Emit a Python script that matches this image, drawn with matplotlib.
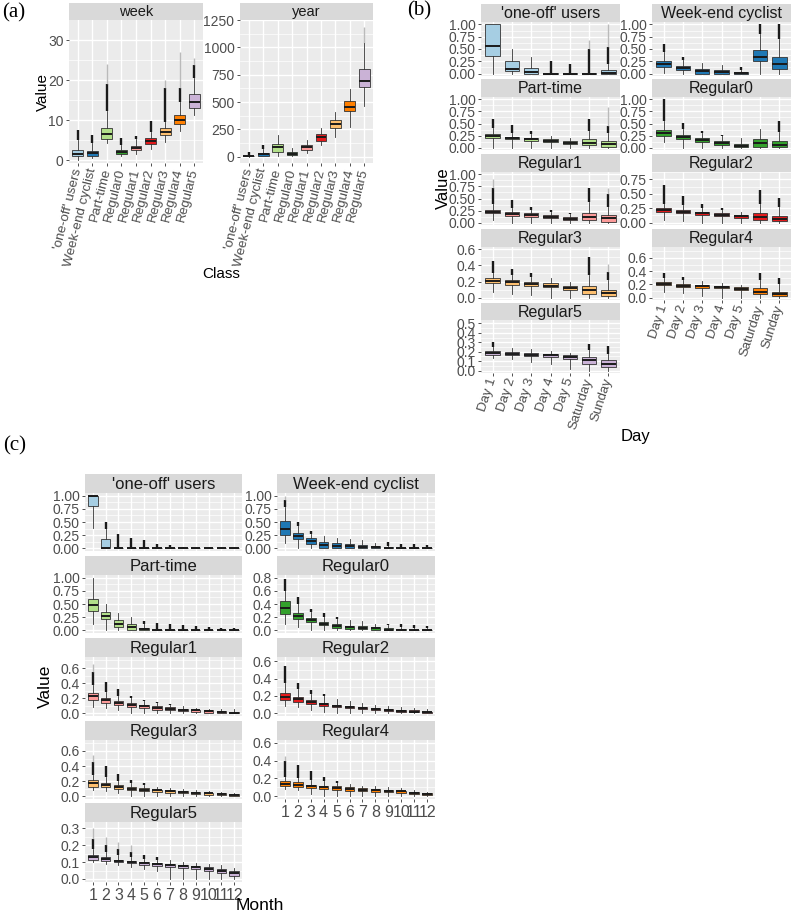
import numpy as np
import matplotlib
matplotlib.use("Agg")
from matplotlib import pyplot as plt

plt.rcParams['font.family'] = ['Liberation Sans', 'DejaVu Sans']

W, H = 797, 914

classes = ["'one-off' users", "Week-end cyclist", "Part-time", "Regular0", "Regular1",
           "Regular2", "Regular3", "Regular4", "Regular5"]
colours = ['#A6CEE3', '#1F78B4', '#B2DF8A', '#33A02C', '#FB9A99',
           '#E31A1C', '#FDBF6F', '#FF7F00', '#CAB2D6']
days = ["Day 1", "Day 2", "Day 3", "Day 4", "Day 5", "Saturday", "Sunday"]
months = [str(m) for m in range(1, 13)]

# each box: (lower whisker, q1, median, q3, upper whisker[, top of dense outliers[, top of sparse outliers]])
week_stats = [
    (0.1, 0.9, 1.6, 2.5, 5.0, 7.5),
    (0.5, 1.1, 1.8, 2.3, 4.2, 6.3),
    (4.2, 5.3, 6.4, 8.1, 12.3, 19.0, 24.0),
    (0.9, 1.5, 1.9, 2.4, 3.8, 5.4),
    (1.4, 2.5, 3.0, 3.6, 5.2, 6.0),
    (2.8, 4.0, 4.75, 5.4, 7.1, 9.8),
    (4.6, 6.25, 7.1, 7.9, 9.6, 18.0, 20.0),
    (7.2, 8.9, 10.0, 11.3, 14.5, 18.0, 27.0),
    (11.2, 12.9, 14.4, 16.4, 20.4, 23.8, 25.5),
]
year_stats = [
    (0, 2, 4, 7, 15, 45),
    (2, 10, 22, 35, 70, 105),
    (5, 46, 85, 113, 195),
    (3, 12, 25, 42, 80),
    (35, 65, 88, 105, 150),
    (107, 146, 180, 208, 260),
    (177, 260, 299, 336, 412),
    (270, 415, 455, 510, 620),
    (460, 640, 695, 800, 1040, 1040, 1190),
]

# (b) share of trips per day of the week
b_oneoff = [
    (0.0, 0.36, 0.56, 1.0, 1.0),
    (0.0, 0.05, 0.10, 0.26, 0.49),
    (0.0, 0.0, 0.03, 0.11, 0.33),
    (0.0, 0.0, 0.0, 0.01, 0.02, 0.26),
    (0.0, 0.0, 0.0, 0.005, 0.01, 0.20),
    (0.0, 0.0, 0.0, 0.01, 0.02, 0.50, 0.68),
    (0.0, 0.0, 0.01, 0.08, 0.20, 0.55, 1.0),
]
b_weekend = [
    (0.02, 0.13, 0.20, 0.26, 0.44, 0.60),
    (0.0, 0.07, 0.11, 0.15, 0.27, 0.33),
    (0.0, 0.0, 0.05, 0.10, 0.22),
    (0.0, 0.0, 0.03, 0.07, 0.17),
    (0.0, 0.0, 0.01, 0.03, 0.07, 0.14),
    (0.0, 0.25, 0.34, 0.47, 0.80, 1.0),
    (0.0, 0.09, 0.20, 0.34, 0.70, 1.0),
]
b_parttime = [
    (0.0, 0.20, 0.24, 0.28, 0.40, 0.60),
    (0.0, 0.17, 0.20, 0.22, 0.30, 0.47),
    (0.0, 0.14, 0.17, 0.20, 0.28, 0.35),
    (0.0, 0.11, 0.14, 0.17, 0.25),
    (0.0, 0.08, 0.10, 0.13, 0.20),
    (0.0, 0.05, 0.10, 0.17, 0.35, 0.60),
    (0.0, 0.02, 0.07, 0.14, 0.30, 0.45, 0.85),
]
b_regular0 = [
    (0.12, 0.25, 0.31, 0.37, 0.55, 1.0),
    (0.0, 0.17, 0.22, 0.26, 0.38, 0.52),
    (0.0, 0.11, 0.15, 0.19, 0.30, 0.35),
    (0.0, 0.06, 0.10, 0.13, 0.24, 0.27),
    (0.0, 0.01, 0.04, 0.08, 0.20),
    (0.0, 0.02, 0.09, 0.17, 0.38),
    (0.0, 0.01, 0.06, 0.14, 0.33, 0.55),
]
b_regular1 = [
    (0.05, 0.19, 0.23, 0.27, 0.38, 0.72, 0.90),
    (0.0, 0.14, 0.185, 0.22, 0.30, 0.47),
    (0.0, 0.12, 0.15, 0.19, 0.27, 0.32),
    (0.0, 0.09, 0.12, 0.15, 0.22, 0.27),
    (0.0, 0.06, 0.08, 0.11, 0.18, 0.20),
    (0.0, 0.05, 0.12, 0.20, 0.42, 0.72),
    (0.0, 0.02, 0.09, 0.15, 0.33, 0.60, 0.72),
]
b_regular2 = [
    (0.05, 0.19, 0.22, 0.26, 0.33, 0.65),
    (0.02, 0.16, 0.19, 0.22, 0.30, 0.47),
    (0.0, 0.13, 0.16, 0.19, 0.26, 0.33),
    (0.0, 0.11, 0.14, 0.16, 0.22, 0.25),
    (0.0, 0.08, 0.11, 0.13, 0.18),
    (0.0, 0.05, 0.10, 0.16, 0.32, 0.57),
    (0.0, 0.02, 0.06, 0.12, 0.27, 0.42),
]
b_regular3 = [
    (0.07, 0.18, 0.21, 0.245, 0.30, 0.46),
    (0.05, 0.16, 0.19, 0.22, 0.28, 0.35),
    (0.03, 0.15, 0.17, 0.20, 0.26, 0.30),
    (0.0, 0.13, 0.15, 0.18, 0.24),
    (0.0, 0.10, 0.12, 0.15, 0.20),
    (0.0, 0.04, 0.09, 0.14, 0.28, 0.50),
    (0.0, 0.02, 0.06, 0.10, 0.22, 0.32, 0.42),
]
b_regular4 = [
    (0.08, 0.19, 0.21, 0.24, 0.30, 0.38),
    (0.07, 0.16, 0.18, 0.20, 0.27, 0.31),
    (0.03, 0.15, 0.17, 0.19, 0.25),
    (0.0, 0.14, 0.155, 0.17, 0.22),
    (0.0, 0.12, 0.135, 0.155, 0.19),
    (0.0, 0.05, 0.09, 0.14, 0.27, 0.37),
    (0.0, 0.03, 0.06, 0.09, 0.20, 0.30),
]
b_regular5 = [
    (0.13, 0.16, 0.19, 0.21, 0.25, 0.30),
    (0.12, 0.16, 0.18, 0.20, 0.24),
    (0.09, 0.15, 0.17, 0.19, 0.23),
    (0.07, 0.14, 0.16, 0.18, 0.21),
    (0.02, 0.12, 0.14, 0.16, 0.19),
    (0.0, 0.07, 0.11, 0.14, 0.22, 0.28),
    (0.0, 0.036, 0.07, 0.107, 0.18, 0.26),
]

# (c) share of trips per month of activity
c_oneoff = [
    (0.38, 0.80, 1.0, 1.0, 1.0),
    (0.0, 0.0, 0.0, 0.17, 0.36, 0.50),
    (0.0, 0.0, 0.0, 0.0, 0.0, 0.27),
    (0.0, 0.0, 0.0, 0.0, 0.0, 0.20),
    (0.0, 0.0, 0.0, 0.0, 0.0, 0.15),
    (0.0, 0.0, 0.0, 0.0, 0.0, 0.09),
    (0.0, 0.0, 0.0, 0.0, 0.0, 0.06),
    (0.0, 0.0, 0.0, 0.0, 0.0, 0.02),
    (0.0, 0.0, 0.0, 0.0, 0.0, 0.01),
    (0.0, 0.0, 0.0, 0.0, 0.0, 0.01),
    (0.0, 0.0, 0.0, 0.0, 0.0, 0.01),
    (0.0, 0.0, 0.0, 0.0, 0.0, 0.01),
]
c_weekend = [
    (0.10, 0.26, 0.37, 0.52, 0.78, 0.92, 1.0),
    (0.0, 0.18, 0.23, 0.30, 0.42, 0.50),
    (0.0, 0.09, 0.14, 0.19, 0.27, 0.33),
    (0.0, 0.01, 0.06, 0.12, 0.24),
    (0.0, 0.0, 0.05, 0.10, 0.20),
    (0.0, 0.0, 0.04, 0.08, 0.17),
    (0.0, 0.0, 0.03, 0.07, 0.15),
    (0.0, 0.0, 0.02, 0.04, 0.10),
    (0.0, 0.0, 0.01, 0.02, 0.05, 0.12),
    (0.0, 0.0, 0.0, 0.01, 0.03, 0.09),
    (0.0, 0.0, 0.0, 0.01, 0.03, 0.08),
    (0.0, 0.0, 0.0, 0.01, 0.02, 0.07),
]
c_parttime = [
    (0.12, 0.37, 0.48, 0.60, 1.0),
    (0.0, 0.22, 0.27, 0.34, 0.50),
    (0.0, 0.07, 0.13, 0.20, 0.33),
    (0.0, 0.01, 0.06, 0.12, 0.25),
    (0.0, 0.0, 0.02, 0.05, 0.12, 0.17),
    (0.0, 0.0, 0.0, 0.01, 0.03, 0.14),
    (0.0, 0.0, 0.0, 0.01, 0.03, 0.12),
    (0.0, 0.0, 0.0, 0.01, 0.02, 0.10),
    (0.0, 0.0, 0.0, 0.0, 0.02, 0.08),
    (0.0, 0.0, 0.0, 0.0, 0.01, 0.06),
    (0.0, 0.0, 0.0, 0.0, 0.01, 0.05),
    (0.0, 0.0, 0.0, 0.0, 0.01, 0.04),
]
c_regular0 = [
    (0.10, 0.25, 0.34, 0.44, 0.60, 0.78),
    (0.05, 0.17, 0.22, 0.26, 0.40, 0.50),
    (0.0, 0.12, 0.15, 0.19, 0.28, 0.33),
    (0.0, 0.08, 0.10, 0.13, 0.20, 0.26),
    (0.0, 0.04, 0.07, 0.09, 0.17, 0.20),
    (0.0, 0.02, 0.05, 0.07, 0.16),
    (0.0, 0.02, 0.04, 0.06, 0.14),
    (0.0, 0.01, 0.03, 0.05, 0.10),
    (0.0, 0.0, 0.01, 0.03, 0.08, 0.10),
    (0.0, 0.0, 0.005, 0.02, 0.05, 0.09),
    (0.0, 0.0, 0.0, 0.01, 0.04, 0.08),
    (0.0, 0.0, 0.0, 0.01, 0.03, 0.07),
]
c_regular1 = [
    (0.08, 0.18, 0.23, 0.27, 0.38, 0.55, 0.65),
    (0.07, 0.14, 0.17, 0.20, 0.28, 0.42),
    (0.04, 0.11, 0.14, 0.16, 0.23, 0.32),
    (0.0, 0.08, 0.11, 0.13, 0.20, 0.23),
    (0.0, 0.07, 0.09, 0.11, 0.16, 0.18),
    (0.0, 0.05, 0.07, 0.09, 0.13, 0.15),
    (0.01, 0.04, 0.06, 0.08, 0.11, 0.12),
    (0.0, 0.03, 0.05, 0.06, 0.09),
    (0.0, 0.02, 0.04, 0.05, 0.07),
    (0.0, 0.01, 0.03, 0.04, 0.06),
    (0.0, 0.01, 0.02, 0.035, 0.06),
    (0.0, 0.0, 0.01, 0.02, 0.06),
]
c_regular2 = [
    (0.08, 0.15, 0.19, 0.24, 0.35, 0.55),
    (0.07, 0.13, 0.16, 0.19, 0.28, 0.35),
    (0.04, 0.11, 0.13, 0.15, 0.22, 0.27),
    (0.01, 0.09, 0.11, 0.12, 0.20, 0.22),
    (0.0, 0.07, 0.09, 0.10, 0.17),
    (0.0, 0.06, 0.07, 0.08, 0.14),
    (0.0, 0.05, 0.06, 0.07, 0.12),
    (0.0, 0.04, 0.05, 0.06, 0.10),
    (0.0, 0.03, 0.04, 0.05, 0.08),
    (0.0, 0.02, 0.03, 0.04, 0.07),
    (0.0, 0.01, 0.02, 0.035, 0.06),
    (0.0, 0.005, 0.01, 0.02, 0.05),
]
c_regular3 = [
    (0.08, 0.13, 0.17, 0.21, 0.28, 0.45, 0.55),
    (0.07, 0.12, 0.15, 0.18, 0.25, 0.40),
    (0.04, 0.10, 0.12, 0.15, 0.20, 0.30),
    (0.0, 0.08, 0.10, 0.12, 0.18, 0.22),
    (0.0, 0.07, 0.09, 0.11, 0.15, 0.18),
    (0.0, 0.06, 0.08, 0.09, 0.13),
    (0.0, 0.05, 0.07, 0.08, 0.11),
    (0.0, 0.04, 0.06, 0.07, 0.10),
    (0.0, 0.03, 0.05, 0.06, 0.08),
    (0.0, 0.02, 0.04, 0.05, 0.07),
    (0.0, 0.015, 0.03, 0.04, 0.06),
    (0.0, 0.005, 0.015, 0.025, 0.04),
]
c_regular4 = [
    (0.08, 0.12, 0.14, 0.17, 0.22, 0.40, 0.45),
    (0.07, 0.105, 0.13, 0.155, 0.20, 0.35),
    (0.03, 0.09, 0.11, 0.13, 0.18, 0.28),
    (0.0, 0.08, 0.10, 0.12, 0.17, 0.22),
    (0.0, 0.07, 0.09, 0.11, 0.15, 0.17),
    (0.0, 0.06, 0.08, 0.10, 0.14),
    (0.0, 0.06, 0.075, 0.09, 0.12),
    (0.0, 0.05, 0.07, 0.085, 0.11),
    (0.0, 0.05, 0.065, 0.075, 0.10),
    (0.0, 0.04, 0.055, 0.065, 0.09),
    (0.0, 0.025, 0.04, 0.05, 0.07),
    (0.0, 0.01, 0.025, 0.035, 0.05),
]
c_regular5 = [
    (0.10, 0.114, 0.13, 0.144, 0.18, 0.24, 0.30),
    (0.09, 0.106, 0.12, 0.13, 0.16, 0.20, 0.25),
    (0.08, 0.10, 0.108, 0.115, 0.14, 0.18, 0.22),
    (0.07, 0.092, 0.10, 0.107, 0.13, 0.16, 0.20),
    (0.06, 0.085, 0.093, 0.10, 0.12, 0.14),
    (0.05, 0.078, 0.086, 0.093, 0.115, 0.13),
    (0.0, 0.07, 0.08, 0.087, 0.11),
    (0.0, 0.065, 0.075, 0.082, 0.10),
    (0.0, 0.06, 0.07, 0.075, 0.095),
    (0.0, 0.05, 0.062, 0.07, 0.09),
    (0.0, 0.035, 0.05, 0.06, 0.08),
    (0.0, 0.02, 0.033, 0.045, 0.065),
]

b_data = [b_oneoff, b_weekend, b_parttime, b_regular0, b_regular1,
          b_regular2, b_regular3, b_regular4, b_regular5]
c_data = [c_oneoff, c_weekend, c_parttime, c_regular0, c_regular1,
          c_regular2, c_regular3, c_regular4, c_regular5]

q4 = [0, 0.25, 0.5, 0.75, 1.0]
b_ticks = [q4] * 5 + [[0, 0.25, 0.5, 0.75], [0, 0.2, 0.4, 0.6], [0, 0.2, 0.4, 0.6],
                      [0, 0.1, 0.2, 0.3, 0.4, 0.5]]
b_dec = [2] * 6 + [1] * 3
b_ylims = [(-0.05, 1.05)] * 5 + [(-0.042, 0.88), (-0.03, 0.63), (-0.0365, 0.7665), (-0.026, 0.536)]

c_ticks = [q4] * 3 + [[0, 0.2, 0.4, 0.6, 0.8]] + [[0, 0.2, 0.4, 0.6]] * 4 + [[0, 0.1, 0.2, 0.3]]
c_dec = [2] * 3 + [1] * 6
c_ylims = [(-0.05, 1.05)] * 3 + [(-0.04, 0.84), (-0.036, 0.746), (-0.031, 0.65),
                                 (-0.035, 0.745), (-0.03, 0.63), (-0.018, 0.338)]

fig = plt.figure(figsize=(W / 100, H / 100), dpi=100)


def px(x0, y0, x1, y1):
    return [x0 / W, 1 - y1 / H, (x1 - x0) / W, (y1 - y0) / H]


def strip(x0, y0, x1, y1, text, fs):
    sax = fig.add_axes(px(x0, y0, x1, y1))
    sax.set_facecolor('#D9D9D9')
    sax.set_xticks([])
    sax.set_yticks([])
    for sp in sax.spines.values():
        sp.set_visible(False)
    sax.text(0.5, 0.45, text, ha='center', va='center', fontsize=fs, color='#1A1A1A',
             transform=sax.transAxes)


def draw_boxes(ax, stats, cols):
    pos = np.arange(1, len(stats) + 1)
    for p, s, col in zip(pos, stats, cols):
        if len(s) > 5 and s[5] > s[4]:
            ax.vlines(p, s[4], s[5], color='#1A1A1A', lw=1.7, zorder=2)
        if len(s) > 6:
            ax.vlines(p, s[5], s[6], color='#8C8C8C', lw=1.0, alpha=0.6, zorder=2)
        ax.bxp([dict(whislo=s[0], q1=s[1], med=s[2], q3=s[3], whishi=s[4], fliers=[])],
               positions=[p], widths=0.75, patch_artist=True, showcaps=False, showfliers=False,
               boxprops=dict(facecolor=col, edgecolor='#333333', linewidth=0.6),
               whiskerprops=dict(color='#333333', linewidth=0.6),
               medianprops=dict(color='#1A1A1A', linewidth=1.4), manage_ticks=False)


def style(ax, n, yticks, dec, ylim, yfs, xlabels=None, xfs=9, rot=0):
    ax.set_facecolor('#EBEBEB')
    for sp in ax.spines.values():
        sp.set_visible(False)
    ax.set_xlim(0.4, n + 0.6)
    ax.set_ylim(*ylim)
    ax.set_yticks(yticks)
    ax.set_yticklabels([f'{t:.{dec}f}' for t in yticks], fontsize=yfs, color='#4D4D4D')
    d = yticks[1] - yticks[0]
    minor = [t + d / 2 for t in [yticks[0] - d] + list(yticks)]
    ax.set_yticks([m for m in minor if ylim[0] < m < ylim[1]], minor=True)
    ax.grid(which='major', color='white', lw=1.0)
    ax.grid(which='minor', axis='y', color='white', lw=0.5)
    ax.set_axisbelow(True)
    ax.set_xticks(np.arange(1, n + 1))
    ax.tick_params(which='major', length=2.5, width=0.6, color='#333333', pad=1.5)
    ax.tick_params(axis='y', which='minor', length=0)
    if xlabels is None:
        ax.tick_params(axis='x', length=0, labelbottom=False)
    elif rot:
        ax.set_xticklabels(xlabels, fontsize=xfs, color='#4D4D4D', rotation=rot,
                           ha='right', va='center', rotation_mode='anchor')
    else:
        ax.set_xticklabels(xlabels, fontsize=xfs, color='#4D4D4D')


# ---- (a) weekly / yearly volume per class
for (x0, x1), name, stats, ticks, ylim in [
        ((69, 203), 'week', week_stats, [0, 10, 20, 30], (-0.75, 35)),
        ((240, 373), 'year', year_stats, [0, 250, 500, 750, 1000, 1250], (-58, 1251))]:
    strip(x0, 3, x1, 20, name, 10.5)
    ax = fig.add_axes(px(x0, 20, x1, 163))
    style(ax, len(stats), ticks, 0, ylim, 10, classes, 9.6, 76)
    draw_boxes(ax, stats, colours)

fig.text(221 / W, 1 - 274 / H, 'Class', ha='center', va='center', fontsize=11)
fig.text(43 / W, 1 - 92 / H, 'Value', ha='center', va='center', fontsize=11, rotation=90)

# ---- (b) day of week
b_rows = [(4, 22, 76), (79, 97, 150), (154, 172, 225), (229, 247, 300), (303, 320, 373)]
b_cols = [(481, 620), (652, 791)]
for k in range(9):
    r, c = divmod(k, 2)
    st, pt, pb = b_rows[r]
    x0, x1 = b_cols[c]
    strip(x0, st, x1, pt, classes[k], 11.5)
    ax = fig.add_axes(px(x0, pt, x1, pb))
    xl = days if k >= 7 else None
    style(ax, 7, b_ticks[k], b_dec[k], b_ylims[k], 10, xl, 9.5, 72)
    draw_boxes(ax, b_data[k], [colours[k]] * 7)

fig.text(636 / W, 1 - 436 / H, 'Day', ha='center', va='center', fontsize=12)
fig.text(443 / W, 1 - 188 / H, 'Value', ha='center', va='center', fontsize=12, rotation=90)

# ---- (c) month
c_rows = [(474, 493, 551), (556, 575, 633), (638, 657, 716), (721, 740, 799), (803, 822, 882)]
c_cols = [(85, 242), (277, 435)]
for k in range(9):
    r, c = divmod(k, 2)
    st, pt, pb = c_rows[r]
    x0, x1 = c_cols[c]
    strip(x0, st, x1, pt, classes[k], 12)
    ax = fig.add_axes(px(x0, pt, x1, pb))
    xl = months if k >= 7 else None
    style(ax, 12, c_ticks[k], c_dec[k], c_ylims[k], 10, xl, 11.5)
    draw_boxes(ax, c_data[k], [colours[k]] * 12)

fig.text(260 / W, 1 - 905 / H, 'Month', ha='center', va='center', fontsize=12.5)
fig.text(45 / W, 1 - 686 / H, 'Value', ha='center', va='center', fontsize=12.5, rotation=90)

for lab, x, y in [('(a)', 2, 13), ('(b)', 407, 11), ('(c)', 3, 446)]:
    fig.text(x / W, 1 - y / H, lab, ha='left', va='center', fontsize=15,
             family='Liberation Serif')

fig.savefig('out.png', dpi=100)
